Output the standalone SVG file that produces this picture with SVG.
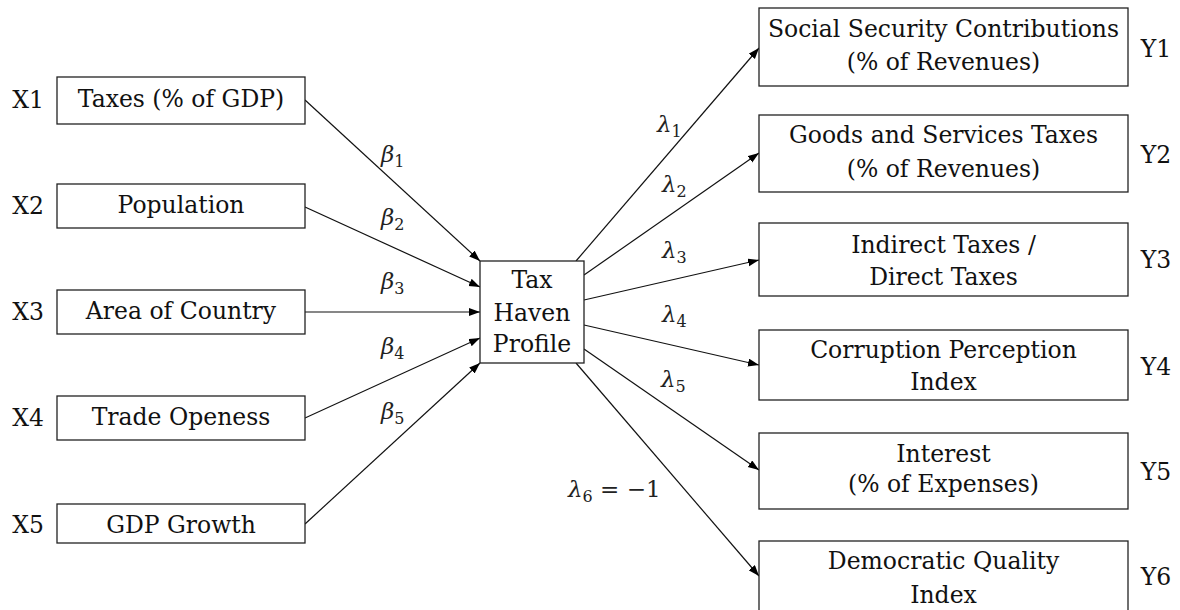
<svg xmlns="http://www.w3.org/2000/svg" width="1180" height="610" viewBox="0 0 1180 610">
<defs>
<style>
text{font-family:'DejaVu Serif','Liberation Serif',serif}
.box{fill:#fff;stroke:#222;stroke-width:1.3}
.t{font-size:23.5px;fill:#111;text-anchor:middle}
.lab{font-size:23.5px;fill:#111;text-anchor:middle}
.m{font-size:23px;fill:#222;font-style:italic}
.sub{font-size:16px;font-style:normal}
.c{stroke:#111;stroke-width:1.2;fill:none;marker-end:url(#ah)}
</style>
<marker id="ah" markerUnits="userSpaceOnUse" markerWidth="12" markerHeight="9" refX="11" refY="4" orient="auto">
<path d="M0,0 L11,4 L0,8 z" fill="#000"/>
</marker>
</defs>
<rect width="1180" height="610" fill="#fff"/>

<g id="connectors">
<line class="c" x1="305" y1="100" x2="480" y2="261"/>
<line class="c" x1="305" y1="207" x2="480" y2="287"/>
<line class="c" x1="305" y1="312" x2="480" y2="312"/>
<line class="c" x1="305" y1="418" x2="480" y2="338"/>
<line class="c" x1="305" y1="524" x2="480" y2="363"/>
<line class="c" x1="576" y1="261" x2="759" y2="48"/>
<line class="c" x1="584" y1="275" x2="759" y2="153"/>
<line class="c" x1="584" y1="300" x2="759" y2="260"/>
<line class="c" x1="584" y1="325" x2="759" y2="365"/>
<line class="c" x1="584" y1="349" x2="759" y2="470"/>
<line class="c" x1="576" y1="363" x2="759" y2="576"/>
</g>

<g id="edge-labels">
<text class="m" x="381" y="162">β<tspan class="sub" dy="5">1</tspan></text>
<text class="m" x="381" y="225">β<tspan class="sub" dy="5">2</tspan></text>
<text class="m" x="381" y="289">β<tspan class="sub" dy="5">3</tspan></text>
<text class="m" x="381" y="354">β<tspan class="sub" dy="5">4</tspan></text>
<text class="m" x="381" y="419">β<tspan class="sub" dy="5">5</tspan></text>
<text class="m" x="657" y="132">λ<tspan class="sub" dy="5">1</tspan></text>
<text class="m" x="662" y="192">λ<tspan class="sub" dy="5">2</tspan></text>
<text class="m" x="662" y="258">λ<tspan class="sub" dy="5">3</tspan></text>
<text class="m" x="662" y="322">λ<tspan class="sub" dy="5">4</tspan></text>
<text class="m" x="661" y="387">λ<tspan class="sub" dy="5">5</tspan></text>
<text class="m" x="568" y="497">λ<tspan class="sub" dy="5">6</tspan><tspan dy="-5" style="font-style:normal"> = −1</tspan></text>
</g>

<g id="X1"><text class="lab" x="28" y="108">X1</text><rect class="box" x="57" y="77" width="248" height="47"/><text class="t" x="181" y="107">Taxes (% of GDP)</text></g>
<g id="X2"><text class="lab" x="28" y="214">X2</text><rect class="box" x="57" y="184" width="248" height="44"/><text class="t" x="181" y="213">Population</text></g>
<g id="X3"><text class="lab" x="28" y="320">X3</text><rect class="box" x="57" y="290" width="248" height="44"/><text class="t" x="181" y="319">Area of Country</text></g>
<g id="X4"><text class="lab" x="28" y="426">X4</text><rect class="box" x="57" y="396" width="248" height="44"/><text class="t" x="181" y="425">Trade Openess</text></g>
<g id="X5"><text class="lab" x="28" y="533">X5</text><rect class="box" x="57" y="504" width="248" height="39"/><text class="t" x="181" y="533">GDP Growth</text></g>

<g id="THP"><rect class="box" x="480" y="261" width="104" height="102"/>
<text class="t" x="532" y="288">Tax</text><text class="t" x="532" y="321">Haven</text><text class="t" x="532" y="352">Profile</text></g>

<g id="Y1"><rect class="box" x="759" y="8" width="369" height="78"/><text class="t" x="943.5" y="37">Social Security Contributions</text><text class="t" x="943.5" y="70">(% of Revenues)</text><text class="lab" x="1156" y="57">Y1</text></g>
<g id="Y2"><rect class="box" x="759" y="115" width="369" height="77"/><text class="t" x="943.5" y="143">Goods and Services Taxes</text><text class="t" x="943.5" y="177">(% of Revenues)</text><text class="lab" x="1156" y="163">Y2</text></g>
<g id="Y3"><rect class="box" x="759" y="223" width="369" height="73"/><text class="t" x="943.5" y="253">Indirect Taxes /</text><text class="t" x="943.5" y="285">Direct Taxes</text><text class="lab" x="1156" y="268">Y3</text></g>
<g id="Y4"><rect class="box" x="759" y="330" width="369" height="70"/><text class="t" x="943.5" y="358">Corruption Perception</text><text class="t" x="943.5" y="390">Index</text><text class="lab" x="1156" y="375">Y4</text></g>
<g id="Y5"><rect class="box" x="759" y="433" width="369" height="76"/><text class="t" x="943.5" y="462">Interest</text><text class="t" x="943.5" y="492">(% of Expenses)</text><text class="lab" x="1156" y="480">Y5</text></g>
<g id="Y6"><rect class="box" x="759" y="541" width="369" height="76"/><text class="t" x="943.5" y="569">Democratic Quality</text><text class="t" x="943.5" y="603">Index</text><text class="lab" x="1156" y="585">Y6</text></g>
</svg>
